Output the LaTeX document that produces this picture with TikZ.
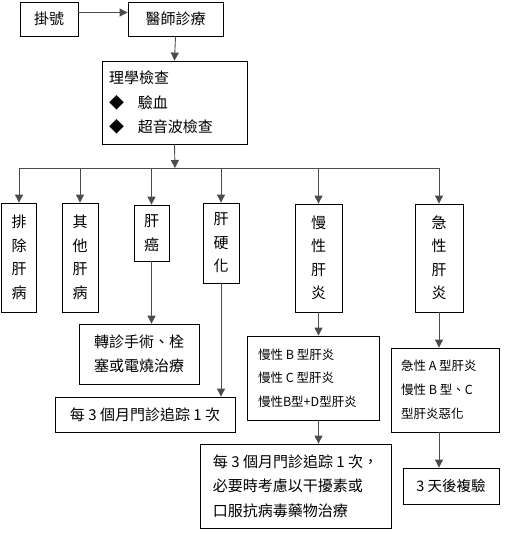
\documentclass[tikz,border=0pt]{standalone}
\usepackage{fontspec}
\setmainfont{Noto Sans CJK TC}
\usetikzlibrary{arrows.meta}
\begin{document}
\begin{tikzpicture}[x=1pt,y=-1pt,
  box/.style={draw=black,line width=0.8pt,inner sep=0pt,font=\fontsize{15}{23.5}\selectfont},
  vbox/.style={box,align=center},
  small/.style={box,font=\fontsize{12.5}{23.5}\selectfont,align=left},
  arr/.style={draw=black!70,line width=0.9pt,-{Triangle[length=8pt,width=8pt]}},
  ln/.style={draw=black!70,line width=0.9pt}]
\useasboundingbox (0,0) rectangle (517,534);
% top row
\node[box,minimum width=58pt,minimum height=34pt] (reg) at (49,19) {掛號};
\node[box,minimum width=95pt,minimum height=34pt] (doc) at (175.5,19) {醫師診療};
\node[box,minimum width=145pt,minimum height=83pt,align=left,font=\fontsize{15}{24.5}\selectfont] (exam) at (174.5,102.5)
  {\makebox[131pt][l]{理學檢查}\\ ◆\hspace{14pt}驗血\\ ◆\hspace{14pt}超音波檢查};
\coordinate (bus) at (175,168);
\coordinate (busL) at (19,168);
\coordinate (busR) at (439,168);
% category boxes
\node[vbox,minimum width=35pt,minimum height=109pt] (b1) at (19,257.5) {排\\除\\肝\\病};
\node[vbox,minimum width=36pt,minimum height=109pt] (b2) at (80,257.5) {其\\他\\肝\\病};
\node[vbox,minimum width=35pt,minimum height=56pt] (b3) at (151.5,233) {肝\\癌};
\node[vbox,minimum width=36pt,minimum height=80pt] (b4) at (221,243) {肝\\硬\\化};
\node[vbox,minimum width=47pt,minimum height=108pt] (b5) at (318.5,258) {慢\\性\\肝\\炎};
\node[vbox,minimum width=48pt,minimum height=108pt] (b6) at (439,258) {急\\性\\肝\\炎};
% results
\node[box,align=center,minimum width=120pt,minimum height=60pt,font=\fontsize{15}{24}\selectfont] (r3) at (139,354) {轉診手術、栓\\塞或電燒治療};
\node[box,minimum width=180pt,minimum height=35pt] (r4) at (145,414.5) {每 3 個月門診追踪 1 次};
\node[small,minimum width=132pt,minimum height=84pt] (r5) at (313,378) {\makebox[110pt][l]{慢性 B 型肝炎}\\慢性 C 型肝炎\\慢性B型+D型肝炎};
\node[box,align=left,minimum width=191pt,minimum height=84pt,font=\fontsize{15}{24.5}\selectfont] (r5b) at (295.5,486) {每 3 個月門診追踪 1 次，\\必要時考慮以干擾素或\\口服抗病毒藥物治療};
\node[small,minimum width=108pt,minimum height=84pt,font=\fontsize{12.5}{24}\selectfont] (r6) at (445,390) {\makebox[88pt][l]{急性 A 型肝炎}\\慢性 B 型、C\\型肝炎惡化};
\node[box,minimum width=96pt,minimum height=36pt,font=\fontsize{14.5}{20}\selectfont] (r6b) at (451,486) {3 天後複驗};
% connectors
\draw[arr] ([yshift=6.5pt]reg.east) -- ([yshift=6.5pt]doc.west);
\draw[arr] (doc.south) -- (exam.north);
\draw[arr] (exam.south) -- (bus);
\draw[ln] (busL) -- (busR);
\draw[arr] (busL) -- (b1.north);
\draw[arr] (bus -| b2.north) -- (b2.north);
\draw[arr] (bus -| b3.north) -- (b3.north);
\draw[arr] (bus -| b4.north) -- (b4.north);
\draw[arr] (bus -| b5.north) -- (b5.north);
\draw[arr] (busR) -- (b6.north);
\draw[arr] (b3.south) -- (b3.south |- r3.north);
\draw[arr] (b4.south) -- (b4.south |- r4.north);
\draw[arr] (b5.south) -- (b5.south |- r5.north);
\draw[arr] (r5.south -| b5.south) -- (r5b.north -| b5.south);
\draw[arr] (b6.south) -- (b6.south |- r6.north);
\draw[arr] (r6.south -| b6.south) -- (r6b.north -| b6.south);
\end{tikzpicture}
\end{document}
